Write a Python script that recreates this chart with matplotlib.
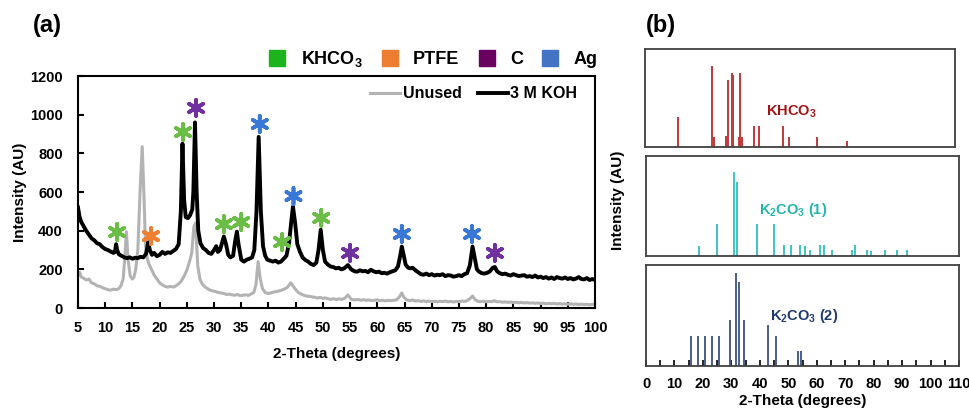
import matplotlib
matplotlib.use('Agg')
import matplotlib.pyplot as plt
from matplotlib.lines import Line2D

plt.rcParams['font.family'] = ['Liberation Sans', 'DejaVu Sans']
plt.rcParams['font.weight'] = 'bold'
plt.rcParams['mathtext.default'] = 'regular'

# ---- (a) XRD patterns ----
theta_koh = [5.0, 5.3, 5.6, 6.0, 6.5, 7.0, 7.5, 8.0, 8.5, 9.0, 9.5, 10.0, 10.5, 11.0, 11.5, 11.8,
             12.0, 12.2, 12.5, 13.0, 13.5, 14.0, 14.5, 15.0, 15.5, 16.0, 16.5, 17.0, 17.5, 17.9,
             18.2, 18.6, 19.0, 19.5, 20.0, 20.5, 21.0, 21.5, 22.0, 22.5, 23.0, 23.5, 23.9, 24.2,
             24.5, 24.8, 25.2, 25.6, 26.0, 26.2, 26.5, 26.8, 27.1, 27.5, 28.0, 28.5, 29.0, 29.5,
             30.0, 30.4, 30.7, 31.1, 31.5, 31.8, 32.2, 32.6, 33.0, 33.5, 33.9, 34.2, 34.5, 35.0,
             35.5, 36.0, 36.5, 37.0, 37.4, 37.8, 38.2, 38.6, 39.0, 39.4, 39.8, 40.3, 40.8, 41.3,
             41.8, 42.3, 42.8, 43.3, 43.8, 44.2, 44.5, 44.9, 45.3, 45.8, 46.3, 46.8, 47.3, 47.8,
             48.3, 48.8, 49.2, 49.6, 50.0, 50.4, 50.9, 51.4, 51.9, 52.4, 52.9, 53.4, 53.9, 54.6,
             55.2, 55.8, 56.3, 56.8, 57.3, 57.8, 58.3, 58.8, 59.3, 59.8, 60.3, 60.8, 61.3, 61.8,
             62.3, 62.8, 63.3, 63.8, 64.2, 64.5, 64.8, 65.2, 65.6, 66.0, 66.5, 67.0, 67.5, 68.0,
             68.5, 69.0, 69.5, 70.0, 70.5, 71.0, 71.5, 72.0, 72.5, 73.0, 73.5, 74.0, 74.5, 75.0,
             75.5, 76.0, 76.5, 77.0, 77.5, 77.9, 78.3, 78.7, 79.2, 79.7, 80.2, 80.7, 81.2, 81.6,
             82.0, 82.5, 83.0, 83.5, 84.0, 84.5, 85.0, 85.5, 86.0, 86.5, 87.0, 87.5, 88.0, 88.5,
             89.0, 89.5, 90.0, 90.5, 91.0, 91.5, 92.0, 92.5, 93.0, 93.5, 94.0, 94.5, 95.0, 95.5,
             96.0, 96.5, 97.0, 97.5, 98.0, 98.5, 99.0, 99.5, 100.0]
int_koh = [520, 470, 445, 425, 400, 380, 360, 350, 335, 330, 315, 305, 300, 292, 285, 290,
           330, 300, 278, 270, 262, 258, 262, 255, 260, 258, 265, 262, 280, 340,
           300, 275, 285, 268, 275, 290, 280, 288, 285, 295, 305, 330, 500, 850,
           560, 470, 465, 480, 510, 600, 960, 600, 400, 335, 310, 300, 285, 280,
           300, 320, 290, 300, 340, 370, 330, 275, 262, 270, 350, 395, 330, 250,
           240, 250, 255, 262, 300, 500, 885, 500, 320, 270, 250, 245, 240, 245,
           235, 240, 255, 270, 340, 450, 525, 440, 330, 290, 260, 248, 240, 228,
           222, 235, 300, 405, 300, 240, 225, 215, 212, 205, 208, 200, 205, 222,
           200, 190, 188, 195, 190, 192, 185, 198, 190, 185, 188, 180, 182, 178,
           185, 190, 195, 215, 270, 318, 280, 225, 210, 205, 208, 195, 185, 175,
           172, 178, 170, 175, 168, 172, 170, 175, 165, 170, 168, 162, 165, 170,
           165, 175, 180, 220, 318, 260, 200, 188, 180, 178, 182, 190, 208, 212,
           190, 180, 175, 178, 172, 168, 175, 170, 165, 168, 170, 162, 165, 160,
           168, 158, 162, 155, 160, 152, 158, 150, 160, 155, 152, 158, 150, 155,
           148, 152, 160, 150, 148, 155, 145, 150, 145]

theta_unused = [5.0, 5.3, 5.6, 6.0, 6.5, 7.0, 7.5, 8.0, 8.5, 9.0, 9.5, 10.0, 10.5, 11.0, 11.5,
                12.0, 12.5, 12.9, 13.3, 13.6, 13.9, 14.2, 14.6, 15.0, 15.3, 15.6, 16.0, 16.4,
                16.8, 17.1, 17.4, 17.7, 18.0, 18.5, 19.0, 19.5, 20.0, 20.5, 21.0, 21.5, 22.0,
                22.5, 23.0, 23.5, 24.0, 24.5, 25.0, 25.5, 25.9, 26.3, 26.6, 27.0, 27.4, 27.8,
                28.3, 28.8, 29.3, 29.8, 30.3, 30.8, 31.3, 31.8, 32.3, 32.8, 33.3, 33.8, 34.3,
                34.8, 35.3, 35.8, 36.3, 36.8, 37.3, 37.7, 38.1, 38.5, 38.9, 39.4, 39.9, 40.4,
                40.9, 41.4, 41.9, 42.4, 42.9, 43.4, 43.8, 44.1, 44.5, 45.0, 45.5, 46.0, 46.5,
                47.0, 47.5, 48.0, 48.5, 49.0, 49.5, 50.0, 50.5, 51.0, 51.5, 52.0, 52.5, 53.0,
                53.5, 54.0, 54.6, 55.2, 55.8, 56.5, 57.0, 57.5, 58.0, 58.5, 59.0, 59.5, 60.0,
                60.5, 61.0, 61.5, 62.0, 62.5, 63.0, 63.5, 64.0, 64.5, 64.9, 65.4, 66.0, 66.5,
                67.0, 67.5, 68.0, 68.5, 69.0, 69.5, 70.0, 70.5, 71.0, 71.5, 72.0, 72.5, 73.0,
                73.5, 74.0, 74.5, 75.0, 75.5, 76.0, 76.5, 77.0, 77.5, 77.9, 78.4, 79.0, 79.5,
                80.0, 80.5, 81.0, 81.5, 82.0, 82.5, 83.0, 83.5, 84.0, 84.5, 85.0, 85.5, 86.0,
                86.5, 87.0, 87.5, 88.0, 88.5, 89.0, 89.5, 90.0, 90.5, 91.0, 91.5, 92.0, 92.5,
                93.0, 93.5, 94.0, 94.5, 95.0, 95.5, 96.0, 96.5, 97.0, 97.5, 98.0, 98.5, 99.0,
                99.5, 100.0]
int_unused = [170, 185, 160, 155, 145, 150, 130, 125, 115, 112, 105, 100, 95, 92, 98,
              95, 100, 115, 150, 260, 395, 250, 165, 150, 160, 200, 300, 600,
              835, 600, 330, 260, 230, 200, 170, 150, 130, 120, 112, 108, 112,
              108, 115, 125, 140, 165, 195, 240, 285, 420, 440, 220, 150, 125,
              110, 100, 92, 88, 85, 80, 78, 75, 70, 72, 68, 66, 70,
              64, 66, 68, 65, 72, 80, 120, 240, 150, 100, 80, 75, 78,
              82, 85, 88, 92, 98, 105, 120, 130, 115, 95, 80, 72, 66,
              62, 60, 58, 55, 52, 55, 50, 52, 47, 45, 48, 44, 47,
              45, 50, 67, 45, 42, 44, 40, 43, 40, 42, 38, 40, 42,
              38, 40, 37, 40, 38, 40, 42, 55, 78, 55, 42, 38, 42,
              36, 38, 34, 37, 33, 36, 33, 35, 32, 35, 33, 36, 32,
              34, 31, 34, 33, 36, 34, 38, 48, 62, 45, 35, 33, 35,
              32, 34, 33, 38, 32, 33, 30, 32, 29, 31, 28, 30, 27,
              29, 26, 28, 25, 27, 24, 26, 23, 25, 22, 24, 22, 24,
              21, 23, 20, 22, 20, 22, 19, 21, 18, 20, 18, 19, 17,
              19, 16]

# peak assignments (asterisks)
star_theta = [12.2, 18.4, 24.3, 26.7, 31.8, 35.0, 38.4, 42.5, 44.6, 49.7, 55.0, 64.5, 77.4, 81.6]
star_int = [393, 372, 910, 1035, 434, 445, 952, 341, 579, 466, 285, 383, 383, 285]
star_phase = ['KHCO3', 'PTFE', 'KHCO3', 'C', 'KHCO3', 'KHCO3', 'Ag', 'KHCO3', 'Ag', 'KHCO3',
              'C', 'Ag', 'Ag', 'C']

phase_names = ['KHCO$_3$', 'PTFE', 'C', 'Ag']
phase_square_colors = ['#1DB31D', '#ED7D31', '#6A0060', '#4472C4']
star_colors = {'KHCO3': '#6BBE45', 'PTFE': '#F07F32', 'C': '#7030A0', 'Ag': '#3A78D8'}

# ---- (b) reference patterns (relative intensity, %) ----
khco3_theta = [11.6, 23.9, 24.5, 28.7, 29.5, 30.8, 31.3, 33.3, 33.8, 34.3, 38.5, 40.4, 49.1, 51.2, 60.9, 71.6]
khco3_int = [31, 83, 10, 11, 68, 76, 73, 10, 76, 10, 21, 21, 21, 10, 10, 6]

k2co3_1_theta = [18.6, 25.0, 30.9, 31.9, 39.0, 44.8, 48.6, 51.0, 54.0, 55.8, 57.8, 61.0, 62.7,
                 65.5, 72.5, 73.6, 77.8, 79.0, 83.9, 88.2, 91.7]
k2co3_1_int = [10, 32, 84, 74, 32, 32, 11, 11, 11, 10, 6, 11, 11, 6, 6, 11, 6, 5, 6, 6, 6]

k2co3_2_theta = [15.9, 18.3, 20.9, 23.3, 25.7, 29.5, 31.5, 32.8, 34.3, 42.8, 45.8, 53.5, 54.3]
k2co3_2_int = [30, 30, 30, 30, 30, 46, 92, 83, 46, 41, 30, 15, 15]

fig = plt.figure(figsize=(9.7, 4.12), dpi=100)

# ---------------- panel (a) ----------------
ax = fig.add_axes([0.0804, 0.2524, 0.533, 0.5631])
ax.plot(theta_unused, int_unused, color='#b3b3b3', lw=2.2, label='Unused')
ax.plot(theta_koh, int_koh, color='black', lw=2.8, label='3 M KOH')
ax.scatter(star_theta, star_int, marker=(6, 2, 0), s=135, linewidths=2.7,
           c=[star_colors[p] for p in star_phase], zorder=5, clip_on=False)
ax.set_xlim(5, 100)
ax.set_ylim(0, 1200)
ax.set_xticks(range(5, 101, 5))
ax.set_yticks(range(0, 1201, 200))
ax.tick_params(direction='in', length=4, width=1.5, labelsize=10.5)
ax.tick_params(axis='x', pad=9)
ax.tick_params(axis='y', pad=11)
for s in ax.spines.values():
    s.set_linewidth(1.5)
ax.set_xlabel('2-Theta (degrees)', fontsize=11, fontweight='bold', labelpad=9)
ax.set_ylabel('Intensity (AU)', fontsize=11, fontweight='bold', labelpad=2)

handles = [Line2D([], [], marker='s', ls='none', markersize=12, color=c) for c in phase_square_colors]
leg1 = ax.legend(handles, phase_names, ncol=4, loc='lower right', bbox_to_anchor=(1.005, 1.03),
                 frameon=False, fontsize=13, handlelength=1.0, handletextpad=0.8,
                 columnspacing=1.0, borderaxespad=0, borderpad=0)
ax.add_artist(leg1)
ax.legend(loc='upper right', bbox_to_anchor=(0.966, 0.955), ncol=2, frameon=False, fontsize=11.5,
          handlelength=1.9, handletextpad=0.15, columnspacing=1.0, borderaxespad=0, borderpad=0)

# ---------------- panel (b) ----------------
b1 = fig.add_axes([0.665, 0.6432, 0.3196, 0.2379])
b2 = fig.add_axes([0.666, 0.3786, 0.3227, 0.2427])
b3 = fig.add_axes([0.666, 0.1117, 0.3227, 0.245])

b1.vlines(khco3_theta, 0, khco3_int, color='#C0393B', lw=1.4)
b2.vlines(k2co3_1_theta, 0, k2co3_1_int, color='#3EC4C4', lw=1.4)
b3.vlines(k2co3_2_theta, 0, k2co3_2_int, color='#4A5D8C', lw=1.4)

b1.text(52, 36, 'KHCO$_3$', color='#A31515', fontsize=10.5, fontweight='bold', ha='center', va='center')
b2.text(51.7, 46, 'K$_2$CO$_3$ (1)', color='#22B5AE', fontsize=10.5, fontweight='bold', ha='center', va='center')
b3.text(55.6, 50, 'K$_2$CO$_3$ (2)', color='#1F3A6E', fontsize=10.5, fontweight='bold', ha='center', va='center')

for b in (b1, b2, b3):
    b.set_xlim(0, 110)
    b.set_ylim(0, 100)
    b.set_yticks([])
    for s in b.spines.values():
        s.set_linewidth(1.3)
        s.set_color('#404040')
b1.set_xticks([])
b2.set_xticks([])
b3.set_xticks(range(0, 111, 10))
b3.set_xticks(range(5, 110, 10), minor=True)
b3.tick_params(axis='x', which='both', direction='in', length=4, width=1.2, labelsize=10.5, pad=8)
b3.set_xlabel('2-Theta (degrees)', fontsize=11, fontweight='bold', labelpad=2)

fig.text(0.637, 0.515, 'Intensity (AU)', rotation=90, ha='center', va='center', fontsize=11, fontweight='bold')
fig.text(0.049, 0.939, '(a)', ha='center', va='center', fontsize=17, fontweight='bold')
fig.text(0.681, 0.938, '(b)', ha='center', va='center', fontsize=17, fontweight='bold')

fig.savefig('out.png', dpi=100)
